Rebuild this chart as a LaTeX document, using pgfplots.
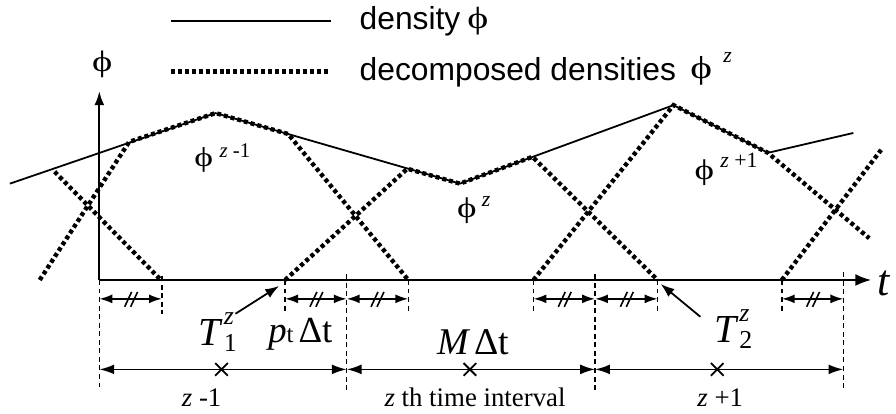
\documentclass[border=0pt]{standalone}
\usepackage{pgfplots}
\pgfplotsset{compat=1.18}
\usetikzlibrary{arrows.meta}
\usepackage{fontspec}
\setmainfont{Liberation Serif}
\newfontfamily\sans{Liberation Sans}
\newcommand\fs[1]{\fontsize{#1}{#1}\selectfont}
\newcommand\ph[1]{\scalebox{1.3}[1]{\resizebox*{!}{#1}{\rmfamily ϕ}}}
\begin{document}
\begin{tikzpicture}
\begin{axis}[width=448pt,height=206pt,scale only axis,hide axis,clip=false,
  xmin=0,xmax=896,ymin=0,ymax=412,y dir=reverse,
  dens/.style={black,line width=0.9pt},
  dec/.style={black,line width=2.2pt,dash pattern=on 2pt off 1.5pt},
  ax/.style={black,line width=1pt},
  vdash/.style={black,line width=0.7pt,dash pattern=on 2.5pt off 1.8pt},
  sarr/.style={black,line width=0.9pt,{Latex[length=6.5pt,width=4.5pt]}-{Latex[length=6.5pt,width=4.5pt]}},
  larr/.style={black,line width=0.9pt,{Latex[length=7.5pt,width=5pt]}-{Latex[length=7.5pt,width=5pt]}},
  every node/.style={inner sep=0pt,outer sep=0pt}]

% frame of the picture (invisible)
\addplot[draw=none] coordinates {(0,0) (896,412)};

% legend samples
\addplot[dens] coordinates {(172,18) (333,18)};
\addplot[dec] coordinates {(172,69) (333,69)};

% axes
\addplot[ax,-{Latex[length=8pt,width=6pt]}] coordinates {(100,279) (877,279)};
\addplot[ax,-{Latex[length=7pt,width=5pt]}] coordinates {(100,279) (100,89)};

% density
\addplot[dens] coordinates {(10,182) (217,111) (463,182) (678,103) (773,151) (859,131)};

% decomposed densities
\addplot[dec] coordinates {(55,170) (162,279)};
\addplot[dec] coordinates {(40,279) (130,140) (217,111) (290,132) (411,279)};
\addplot[dec] coordinates {(287,279) (410,167) (463,182) (536,155) (662,279)};
\addplot[dec] coordinates {(537,279) (678,103) (773,151) (875,237)};
\addplot[dec] coordinates {(787,279) (887,148)};

% short dashed verticals
\addplot[vdash] coordinates {(163,275) (163,313)};
\addplot[vdash] coordinates {(287,279) (287,313)};
\addplot[vdash] coordinates {(411,279) (411,313)};
\addplot[vdash] coordinates {(537,279) (537,313)};
\addplot[vdash] coordinates {(662,279) (662,313)};
\addplot[vdash] coordinates {(787,279) (787,313)};
% long dashed verticals
\addplot[vdash] coordinates {(100,279) (100,390)};
\addplot[vdash] coordinates {(349,273) (349,390)};
\addplot[vdash] coordinates {(599,273) (599,390)};
\addplot[vdash] coordinates {(849,271) (849,388)};

% small double arrows
\addplot[sarr] coordinates {(100,298) (163,298)};
\addplot[sarr] coordinates {(287,298) (349,298)};
\addplot[sarr] coordinates {(349,298) (411,298)};
\addplot[sarr] coordinates {(537,298) (599,298)};
\addplot[sarr] coordinates {(599,298) (662,298)};
\addplot[sarr] coordinates {(787,298) (849,298)};
% // marks
\addplot[black,line width=0.8pt,unbounded coords=jump] coordinates {
 (125.5,306) (132.5,291) (nan,nan) (131.5,306) (138.5,291) (nan,nan)
 (312,306) (319,291) (nan,nan) (318,306) (325,291) (nan,nan)
 (373.5,306) (380.5,291) (nan,nan) (379.5,306) (386.5,291) (nan,nan)
 (562,306) (569,291) (nan,nan) (568,306) (575,291) (nan,nan)
 (624.5,306) (631.5,291) (nan,nan) (630.5,306) (637.5,291) (nan,nan)
 (812,306) (819,291) (nan,nan) (818,306) (825,291)};

% long double arrows
\addplot[larr] coordinates {(100,369) (349,369)};
\addplot[larr] coordinates {(349,369) (599,369)};
\addplot[larr] coordinates {(599,369) (849,369)};
\addplot[black,only marks,mark=x,mark size=4.5pt,line width=0.9pt] coordinates {(223,369) (473,369) (722,369)};

% pointer arrows
\addplot[black,line width=0.9pt,-{Latex[length=7pt,width=5pt]}] coordinates {(237,313) (281,285)};
\addplot[black,line width=0.9pt,-{Latex[length=7pt,width=5pt]}] coordinates {(705,316) (665,283)};

% legend texts
\node[anchor=base west] at (axis cs:355,27) {\sans\fs{16}density};
\node at (axis cs:481,18) {\ph{14pt}};
\node[anchor=base west] at (axis cs:355,78) {\sans\fs{16}decomposed densities};
\node at (axis cs:706,68) {\ph{14.5pt}};
\node[anchor=base west] at (axis cs:721,60) {\fs{11}\itshape z};
% axis labels
\node at (axis cs:103,62) {\ph{13.5pt}};
\node[anchor=base west] at (axis cs:876,295) {\fs{22}\itshape t};
% curve labels
\node at (axis cs:205,158) {\ph{12.5pt}};
\node[anchor=base west] at (axis cs:214,156) {\fs{10.5}{\itshape z} -1};
\node at (axis cs:470,209) {\ph{13pt}};
\node[anchor=base west] at (axis cs:478,205) {\fs{11}\itshape z};
\node at (axis cs:709,171) {\ph{13pt}};
\node[anchor=base west] at (axis cs:718,166) {\fs{11}{\itshape z} +1};
% T labels
\node[anchor=base west] at (axis cs:193,345) {\fs{20}\itshape T\kern1.5pt\rlap{\raisebox{10.5pt}{\fs{13}\itshape z}}\raisebox{-3pt}{\fs{13}\upshape 1}};
\node[anchor=base west] at (axis cs:712,342) {\fs{20}\itshape T\kern1.5pt\rlap{\raisebox{10.5pt}{\fs{13}\itshape z}}\raisebox{-3pt}{\fs{13}\upshape 2}};
\node[anchor=base west] at (axis cs:263,342) {{\fs{18.5}\itshape p}{\fs{12.5}t}\ {\fs{18.5}Δt}};
\node[anchor=base west] at (axis cs:433,354) {{\fs{19}\itshape M}\kern3pt{\fs{19}Δt}};
% interval labels
\node[anchor=base west] at (axis cs:176,406) {\fs{13.5}{\itshape z} -1};
\node[anchor=base west] at (axis cs:380,406) {\fs{13.5}{\itshape z} th time interval};
\node[anchor=base west] at (axis cs:695,406) {\fs{13.5}{\itshape z} +1};
\end{axis}
\end{tikzpicture}
\end{document}
